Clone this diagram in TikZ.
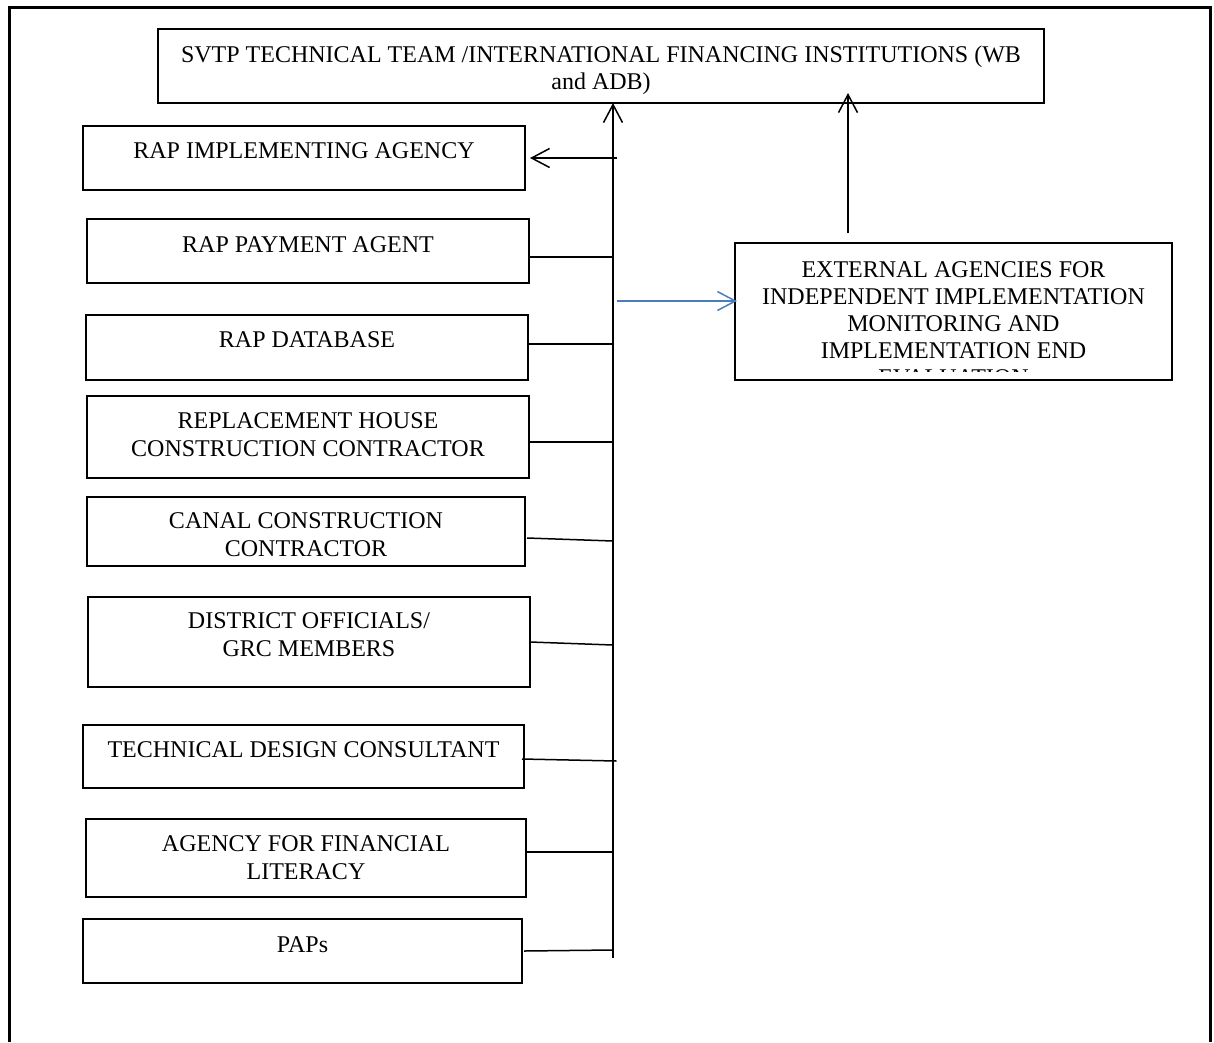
\documentclass[tikz,border=0pt]{standalone}
\usepackage{fontspec}
\setmainfont{Liberation Serif}
\usetikzlibrary{arrows.meta}
\definecolor{wordblue}{RGB}{74,126,187}
\tikzset{
  box/.style={draw=black, line width=1.5pt, anchor=north west, inner sep=0pt, outer sep=0pt},
  txt/.style={align=center, inner sep=0pt, anchor=base, font=\fontsize{24}{28}\selectfont},
  link/.style={draw=black, line width=1.5pt},
  barb/.style={-{Straight Barb[length=18pt,width=19pt,line width=1.5pt]}},
  frame/.style={line width=2.5pt}
}
\begin{document}
\begin{tikzpicture}[x=1pt,y=-1pt]
\useasboundingbox (0,0) rectangle (1214,1042);
% outer frame (open at the bottom)
\draw[frame] (9.5,1042) -- (9.5,7.5) -- (1210.5,7.5) -- (1210.5,1042);

% boxes
\node[box, minimum width=886pt, minimum height=74pt] (top) at (158,29) {};
\node[box, minimum width=442pt, minimum height=64pt] (impl) at (83,126) {};
\node[box, minimum width=442pt, minimum height=64pt] (pay) at (87,219) {};
\node[box, minimum width=442pt, minimum height=65pt] (db) at (86,315) {};
\node[box, minimum width=442pt, minimum height=82pt] (rep) at (87,396) {};
\node[box, minimum width=438pt, minimum height=69pt] (canal) at (87,497) {};
\node[box, minimum width=442pt, minimum height=90pt] (dist) at (88,597) {};
\node[box, minimum width=441pt, minimum height=63pt] (tech) at (83,725) {};
\node[box, minimum width=440pt, minimum height=78pt] (agency) at (86,819) {};
\node[box, minimum width=439pt, minimum height=64pt] (paps) at (83,919) {};
\node[box, minimum width=437pt, minimum height=137pt] (ext) at (735,243) {};

% texts (anchor=base is the baseline of the last line)
\node[txt, font=\fontsize{24}{27}\selectfont] (ttop) at (601,89) {SVTP TECHNICAL TEAM /INTERNATIONAL FINANCING INSTITUTIONS (WB\\and ADB)};
\node[txt] (timpl) at (304,158) {RAP IMPLEMENTING AGENCY};
\node[txt] (tpay) at (308,252) {RAP PAYMENT AGENT};
\node[txt] (tdb) at (307,347) {RAP DATABASE};
\node[txt] (trep) at (308,456.5) {REPLACEMENT HOUSE\\CONSTRUCTION CONTRACTOR};
\node[txt] (tcanal) at (306,556) {CANAL CONSTRUCTION\\CONTRACTOR};
\node[txt] (tdist) at (309,656.5) {DISTRICT OFFICIALS/\\GRC MEMBERS};
\node[txt] (ttech) at (303.5,757) {TECHNICAL DESIGN CONSULTANT};
\node[txt] (tagency) at (306,879) {AGENCY FOR FINANCIAL\\LITERACY};
\node[txt] (tpaps) at (302.5,952) {PAPs};
\begin{scope}
  \clip (735,243) rectangle (1172,371.5);
  \node[txt, font=\fontsize{24}{27}\selectfont] (text) at (953.5,385) {EXTERNAL AGENCIES FOR\\INDEPENDENT IMPLEMENTATION\\MONITORING AND\\IMPLEMENTATION END\\EVALUATION};
\end{scope}

% spine and junction points
\coordinate (spTop) at (613,103);
\coordinate (spBot) at (613,958);
\coordinate (jImpl) at (617,158);
\coordinate (jPay) at (613,257);
\coordinate (jDb) at (613,344);
\coordinate (jRep) at (613,442);
\coordinate (jCanal) at (613,541);
\coordinate (jDist) at (613,645);
\coordinate (jTech) at (616.5,761);
\coordinate (jAgency) at (613,852);
\coordinate (jPaps) at (612,950);
\coordinate (jExt) at (617,301);
\coordinate (upStart) at (848,233);
\coordinate (upTip) at (848,93);

\draw[link, barb] (spBot) -- (spTop);
\draw[link, barb] (jImpl) -- ([xshift=5pt]impl.east |- jImpl);
\draw[link] (pay.east |- jPay) -- (jPay);
\draw[link] (db.east |- jDb) -- (jDb);
\draw[link] (rep.east |- jRep) -- (jRep);
\draw[link] ([xshift=2pt]canal.east |- 0,538) -- (jCanal);
\draw[link] (dist.east |- 0,642) -- (jDist);
\draw[link] ([xshift=-2pt]tech.east |- 0,759) -- (jTech);
\draw[link] (agency.east |- jAgency) -- (jAgency);
\draw[link] ([xshift=2pt]paps.east |- 0,951) -- (jPaps);
\draw[link, barb, draw=wordblue] (jExt) -- ([xshift=2pt]ext.west |- jExt);
\draw[link, barb] (upStart) -- (upTip);
\end{tikzpicture}
\end{document}
